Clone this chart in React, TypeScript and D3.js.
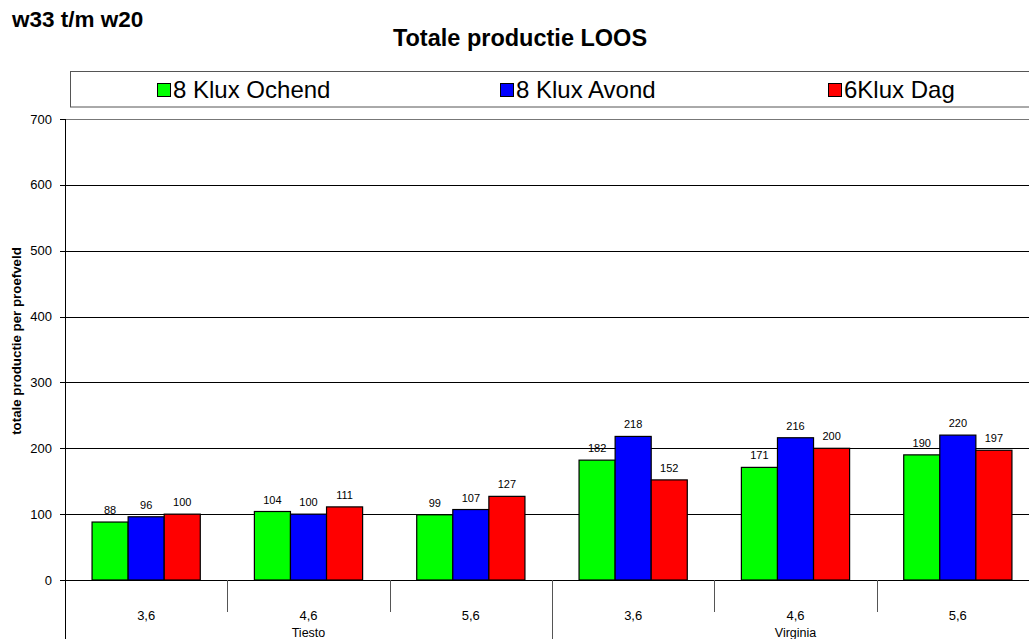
import React from "react";
import * as d3 from "d3";

const varieties = ["Tiesto", "Virginia"];
const spacings = ["3,6", "4,6", "5,6"];
const seriesNames = ["8 Klux Ochend", "8 Klux Avond", "6Klux Dag"];
const seriesColors = ["#00ff00", "#0000ff", "#ff0000"];
const ochend = [88, 104, 99, 182, 171, 190];
const avond = [96, 100, 107, 218, 216, 220];
const dag = [100, 111, 127, 152, 200, 197];
const yTicks = [0, 100, 200, 300, 400, 500, 600, 700];

const W = 1029;
const H = 639;
const plotLeft = 65;
const plotRight = 1039;
const plotTop = 119;
const plotBottom = 580;
const font = "Liberation Sans, Arial, sans-serif";

export default function App() {
  const categories = varieties.flatMap((v) => spacings.map((s) => `${v}|${s}`));
  const series = [ochend, avond, dag];

  const x = d3.scaleBand<string>().domain(categories).range([plotLeft, plotRight]);
  const inner = d3
    .scaleBand<number>()
    .domain([0, 1, 2])
    .range([0, x.bandwidth()])
    .paddingOuter(0.75)
    .paddingInner(0);
  const y = d3.scaleLinear().domain([0, 700]).range([plotBottom, plotTop]);

  const groupW = x.bandwidth() * spacings.length;
  const legendX = [157, 500, 828];

  return (
    <div style={{ position: "fixed", left: 0, top: 0 }}>
      <svg width={W} height={H} style={{ display: "block", background: "#fff" }} fontFamily={font}>
        <text x={12} y={27} fontSize={22.5} fontWeight="bold">w33 t/m w20</text>
        <text x={520} y={46} fontSize={23.5} fontWeight="bold" textAnchor="middle">
          Totale productie LOOS
        </text>

        {/* legend */}
        <rect x={70.5} y={71.5} width={1000} height={35.5} fill="#fff" stroke="#555" strokeWidth={1} />
        {seriesNames.map((name, i) => {
          const lx = legendX[i];
          return (
            <g key={name}>
              <rect x={lx + 0.5} y={83.5} width={13} height={13} fill={seriesColors[i]} stroke="#000" />
              <text x={lx + 16} y={98} fontSize={24}>{name}</text>
            </g>
          );
        })}

        {/* plot top border */}
        <line x1={plotLeft} x2={W} y1={plotTop + 0.5} y2={plotTop + 0.5} stroke="#777" />

        {/* gridlines and y ticks */}
        {yTicks.map((t) => (
          <g key={t}>
            {t > 0 && t < 700 && (
              <line x1={plotLeft} x2={W} y1={Math.round(y(t)) + 0.5} y2={Math.round(y(t)) + 0.5} stroke="#000" />
            )}
            <line x1={plotLeft - 5} x2={plotLeft} y1={Math.round(y(t)) + 0.5} y2={Math.round(y(t)) + 0.5} stroke="#000" />
            <text x={52} y={y(t) + 4.5} fontSize={13} textAnchor="end">{t}</text>
          </g>
        ))}

        {/* bars */}
        {categories.map((c, ci) => (
          <g key={c}>
            {series.map((vals, si) => {
              const bx = (x(c) as number) + (inner(si) as number);
              const by = y(vals[ci]);
              return (
                <g key={si}>
                  <rect
                    x={bx}
                    y={by}
                    width={inner.bandwidth()}
                    height={plotBottom - by}
                    fill={seriesColors[si]}
                    stroke="#000"
                    strokeWidth={1.2}
                  />
                  <text x={bx + inner.bandwidth() / 2} y={by - 8} fontSize={11} textAnchor="middle">
                    {vals[ci]}
                  </text>
                </g>
              );
            })}
          </g>
        ))}

        {/* x axis */}
        <line x1={plotLeft} x2={W} y1={plotBottom + 0.5} y2={plotBottom + 0.5} stroke="#000" />
        <line x1={plotLeft + 0.5} x2={plotLeft + 0.5} y1={plotTop} y2={H} stroke="#000" />
        {categories.map((c, ci) => {
          const cx = x(c) as number;
          const spacing = c.split("|")[1];
          const isGroupEdge = ci % spacings.length === 0;
          return (
            <g key={c}>
              {ci > 0 && (
                <line
                  x1={Math.round(cx) + 0.5}
                  x2={Math.round(cx) + 0.5}
                  y1={plotBottom}
                  y2={isGroupEdge ? H : 612}
                  stroke="#555"
                />
              )}
              <text x={cx + x.bandwidth() / 2} y={620} fontSize={13} textAnchor="middle">{spacing}</text>
            </g>
          );
        })}
        {varieties.map((v, vi) => (
          <text
            key={v}
            x={plotLeft + groupW * vi + groupW / 2}
            y={637}
            fontSize={12.5}
            textAnchor="middle"
          >
            {v}
          </text>
        ))}

        <text
          transform={`translate(21,341) rotate(-90)`}
          fontSize={13.3}
          fontWeight="bold"
          textAnchor="middle"
        >
          totale productie per proefveld
        </text>
      </svg>
    </div>
  );
}
